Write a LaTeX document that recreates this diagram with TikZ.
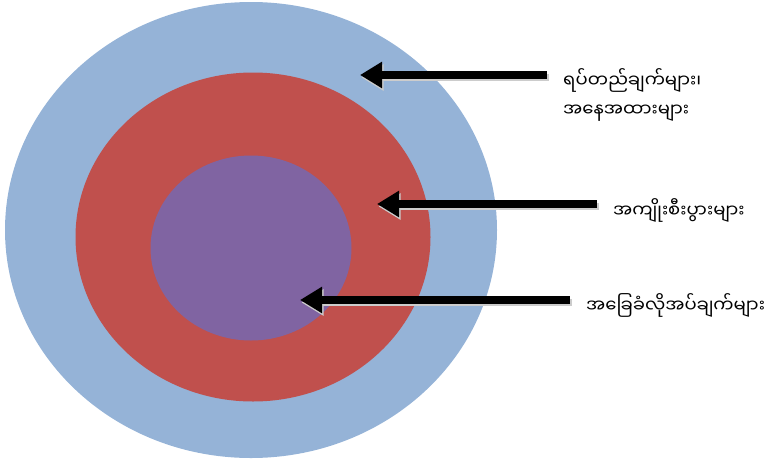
\documentclass[tikz,border=0pt]{standalone}
\usepackage{fontspec}
\newfontfamily\mmfont[Script=Myanmar]{Noto Sans Myanmar UI}
\usetikzlibrary{shapes.geometric}
\usetikzlibrary{arrows.meta}
\usetikzlibrary{calc}
\definecolor{ringblue}{RGB}{149,179,215}
\definecolor{ringred}{RGB}{192,80,77}
\definecolor{ringpurple}{RGB}{128,100,162}
\tikzstyle{ring}=[ellipse,draw=none,inner sep=0pt]
\tikzstyle{pointer} = [draw,line width=7.5pt,-{Triangle[length=22pt,width=25pt]},shorten <=16pt]
\tikzstyle{shade} = [draw,black!20,line width=7.5pt,-{Triangle[length=22pt,width=25pt]},shorten <=16pt]
\tikzstyle{caption} = [anchor=west,inner sep=0pt,font=\mmfont\fontsize{18}{22}\selectfont]

\begin{document}
\begin{tikzpicture}[x=1pt,y=-1pt]
    \useasboundingbox (0,0) rectangle (781,458);
    % the three rings, outside in

    \foreach \pos/\name/\wd/\ht/\col in {{(251,230)/outer/492/456/ringblue}, {(253,237)/middle/355/329/ringred}, {(251,248)/inner/201/185/ringpurple}}
        \node[ring, fill=\col, minimum width=\wd pt, minimum height=\ht pt] (\name) at \pos {};

    % where the arrows stop
    \coordinate (tip1) at (360,75);
    \coordinate (tip2) at (377,204);
    \coordinate (tip3) at (300,300);

    % labels
    \node[caption] (lab1) at (563,80) {ရပ်တည်ချက်များ၊};
    \node[caption] (lab1b) at (563,113) {အနေအထားများ};
    \node[caption] (lab2) at (613,210) {အကျိုးစီးပွားများ};
    \node[caption] (lab3) at (586,305) {အခြေခံလိုအပ်ချက်များ};

    % arrows from the labels into the rings
    \foreach \lab/\tip in {lab1/tip1, lab2/tip2, lab3/tip3}
          \path[shade] ($(\lab.west |- \tip)+(1.5,2.5)$) -- ($(\tip)+(1.5,2.5)$);
    \foreach \lab/\tip in {lab1/tip1, lab2/tip2, lab3/tip3}
          \path[pointer] (\lab.west |- \tip) -- (\tip);

\end{tikzpicture}
\end{document}
